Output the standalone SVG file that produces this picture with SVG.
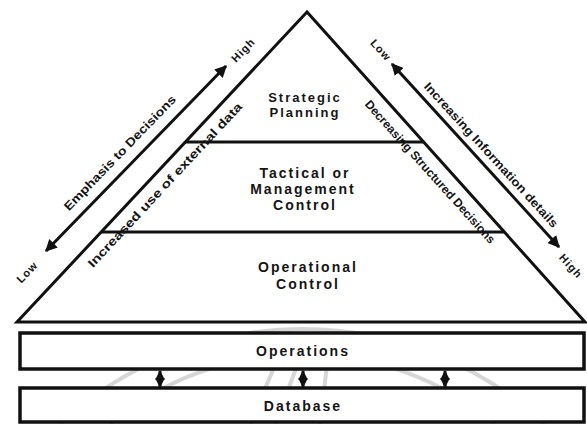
<svg xmlns="http://www.w3.org/2000/svg" width="587" height="424" viewBox="0 0 587 424">
  <style>
    .ln { stroke: #111; stroke-width: 3; fill: none; }
    .box { stroke: #111; stroke-width: 3.5; fill: #fff; }
    .t { font-family: "Liberation Sans", Arial, sans-serif; font-weight: bold; fill: #151515; text-anchor: middle; }
    .tier { font-size: 14px; letter-spacing: 2px; }
    .side { font-size: 12px; dominant-baseline: central; }
    .lab { font-size: 11px; dominant-baseline: central; letter-spacing: 1px; }
    .wm { stroke: #d6d6d6; stroke-width: 4; fill: none; }
  </style>
  <defs>
    <marker id="ah" viewBox="0 0 10 10" refX="9" refY="5" markerWidth="4" markerHeight="4" orient="auto-start-reverse">
      <path d="M0,0 L10,5 L0,10 z" fill="#111"/>
    </marker>
    <marker id="sh" viewBox="0 0 10 10" refX="9" refY="5" markerWidth="3.2" markerHeight="3.2" orient="auto-start-reverse">
      <path d="M0,0 L10,5 L0,10 z" fill="#111"/>
    </marker>
  </defs>
  <rect width="587" height="424" fill="#fff"/>
  <g id="watermark">
    <path class="wm" d="M60,424 A357,357 0 0 1 545,424"/>
    <path class="wm" d="M110,424 A300,300 0 0 1 495,424"/>
    <path class="wm" d="M250,424 L290,330 M275,424 L305,345 M320,424 L330,340"/>
  </g>

  <g id="pyramid">
    <polygon class="ln" points="307,12 17,322 585,322" stroke-linejoin="miter"/>
    <line class="ln" x1="185" y1="142" x2="423" y2="142"/>
    <line class="ln" x1="101" y1="232" x2="504" y2="232"/>
  </g>

  <g id="strategic">
    <text class="t tier" x="305" y="102" style="font-size:13px">Strategic</text>
    <text class="t tier" x="305" y="117" style="font-size:13px">Planning</text>
  </g>
  <g id="tactical">
    <text class="t tier" x="305" y="178">Tactical or</text>
    <text class="t tier" x="303" y="194">Management</text>
    <text class="t tier" x="305" y="210">Control</text>
  </g>
  <g id="operational">
    <text class="t tier" x="308" y="272">Operational</text>
    <text class="t tier" x="308" y="289">Control</text>
  </g>

  <g id="operations">
    <rect class="box" x="20" y="333" width="564" height="36"/>
    <text class="t tier" x="303" y="356">Operations</text>
  </g>
  <g id="database">
    <rect class="box" x="20" y="388" width="564" height="34"/>
    <text class="t tier" x="303" y="411">Database</text>
  </g>

  <g id="connectors">
    <line class="ln" x1="46" y1="251" x2="226" y2="66" marker-start="url(#ah)" marker-end="url(#ah)"/>
    <line class="ln" x1="559" y1="247" x2="392" y2="64" marker-start="url(#ah)" marker-end="url(#ah)"/>
    <line class="ln" x1="160" y1="371" x2="160" y2="387" marker-start="url(#sh)" marker-end="url(#sh)"/>
    <line class="ln" x1="303" y1="371" x2="303" y2="387" marker-start="url(#sh)" marker-end="url(#sh)"/>
    <line class="ln" x1="445" y1="371" x2="445" y2="387" marker-start="url(#sh)" marker-end="url(#sh)"/>
  </g>

  <g id="side-labels">
    <text class="t side" transform="translate(120,153) rotate(-46)" textLength="155" lengthAdjust="spacingAndGlyphs">Emphasis to Decisions</text>
    <text class="t side" transform="translate(165,185) rotate(-47)" textLength="220" lengthAdjust="spacingAndGlyphs">Increased use of external data</text>
    <text class="t side" transform="translate(491,155) rotate(47.5)" textLength="192" lengthAdjust="spacingAndGlyphs">Increasing Information details</text>
    <text class="t side" transform="translate(430,172) rotate(48)" textLength="188" lengthAdjust="spacingAndGlyphs">Decreasing Structured Decisions</text>
    <text class="t lab" transform="translate(243,50) rotate(-46)">High</text>
    <text class="t lab" transform="translate(27,272) rotate(-46)">Low</text>
    <text class="t lab" transform="translate(381,50) rotate(48)">Low</text>
    <text class="t lab" transform="translate(571,266) rotate(48)">High</text>
  </g>
</svg>
